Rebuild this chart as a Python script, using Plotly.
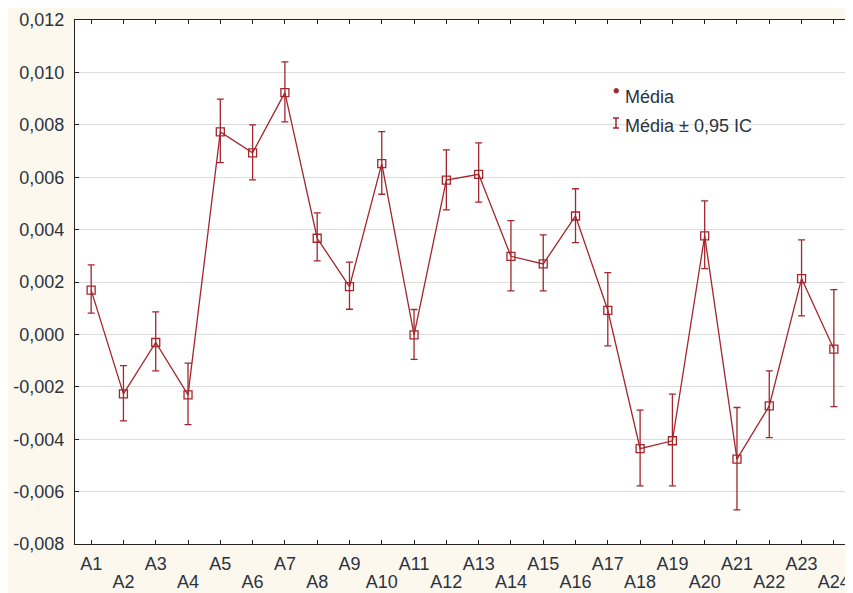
import plotly.graph_objects as go

categories = [f"A{i}" for i in range(1, 25)]
means = [0.00169, -0.00227, -0.00031, -0.00231, 0.00773, 0.00693, 0.00923, 0.00367,
         0.00182, 0.00652, -0.00002, 0.00589, 0.00611, 0.00298, 0.00269, 0.00452,
         0.00092, -0.00436, -0.00406, 0.00376, -0.00476, -0.00273, 0.00213, -0.00056]
upper = [0.00265, -0.00119, 0.00086, -0.00110, 0.00898, 0.00800, 0.01040, 0.00464,
         0.00276, 0.00774, 0.00095, 0.00704, 0.00731, 0.00434, 0.00380, 0.00556,
         0.00236, -0.00289, -0.00228, 0.00510, -0.00279, -0.00139, 0.00361, 0.00171]
lower = [0.00081, -0.00330, -0.00139, -0.00344, 0.00656, 0.00590, 0.00811, 0.00281,
         0.00096, 0.00535, -0.00095, 0.00475, 0.00505, 0.00166, 0.00166, 0.00350,
         -0.00044, -0.00578, -0.00578, 0.00251, -0.00670, -0.00394, 0.00071, -0.00276]
y_ticks = [-0.008, -0.006, -0.004, -0.002, 0.0, 0.002, 0.004, 0.006, 0.008, 0.010, 0.012]
y_tick_labels = [f"{v:.3f}".replace(".", ",") for v in y_ticks]
odd_labels = [c if i % 2 == 0 else "" for i, c in enumerate(categories)]
even_labels = [c if i % 2 == 1 else "" for i, c in enumerate(categories)]

RED = "#a3262c"
TXT = "#2b3340"
FONT = "Liberation Sans, Arial, sans-serif"
FS = 18

x = list(range(1, 25))
err_plus = [u - m for u, m in zip(upper, means)]
err_minus = [m - l for m, l in zip(means, lower)]

fig = go.Figure()
fig.add_trace(go.Scatter(
    x=x, y=means, mode="lines+markers",
    line=dict(color=RED, width=1.3),
    marker=dict(symbol="square-open", size=8, color=RED, line=dict(width=1.3)),
    error_y=dict(type="data", symmetric=False, array=err_plus, arrayminus=err_minus,
                 color=RED, thickness=1.3, width=3.5),
    showlegend=False,
))
# invisible helper so the second-row label axis is drawn
fig.add_trace(go.Scatter(x=x, y=means, xaxis="x2", mode="markers",
                         marker=dict(opacity=0), hoverinfo="skip", showlegend=False))

# page is offset by body margin of 8px
OX, OY = 8, 8
FW, FH = 845, 585
P_L, P_R, P_T, P_B = 75 - OX, 850 - OX, 20 - OY, 544 - OY

def px(xp):
    return (xp - OX - P_L) / (P_R - P_L)
def py(yp):
    return (P_B - (yp - OY)) / (P_B - P_T)

shapes = [
    dict(type="circle", xref="paper", yref="paper", x0=px(614), x1=px(618.5), y0=py(93), y1=py(88.5),
         fillcolor=RED, line=dict(color=RED, width=1)),
    dict(type="line", xref="paper", yref="paper", x0=px(616), x1=px(616), y0=py(118), y1=py(128),
         line=dict(color=RED, width=1.5)),
    dict(type="line", xref="paper", yref="paper", x0=px(613), x1=px(619), y0=py(118), y1=py(118),
         line=dict(color=RED, width=1.5)),
    dict(type="line", xref="paper", yref="paper", x0=px(613), x1=px(619), y0=py(128), y1=py(128),
         line=dict(color=RED, width=1.5)),
]
annotations = [
    dict(text="Média", xref="paper", yref="paper", x=px(623), y=py(97), xanchor="left", yanchor="middle",
         showarrow=False, font=dict(size=FS, color=TXT, family=FONT)),
    dict(text="Média ± 0,95 IC", xref="paper", yref="paper", x=px(623), y=py(126), xanchor="left",
         yanchor="middle", showarrow=False, font=dict(size=FS, color=TXT, family=FONT)),
]

fig.update_layout(
    width=FW, height=FH,
    margin=dict(l=P_L, r=FW - P_R, t=P_T, b=FH - P_B, autoexpand=False),
    paper_bgcolor="#fcf8ee",
    plot_bgcolor="white",
    font=dict(family=FONT, size=FS, color=TXT),
    shapes=shapes,
    annotations=annotations,
    xaxis=dict(
        range=[0.5, 24.5], tickmode="array", tickvals=x, ticktext=odd_labels,
        showgrid=False, zeroline=False, showline=True, linecolor="#222", linewidth=1.2,
        mirror="ticks", ticks="inside", ticklen=4, tickcolor="#222",
        tickfont=dict(size=FS, color=TXT), ticklabelstandoff=3,
    ),
    xaxis2=dict(
        overlaying="x", matches="x", side="bottom", anchor="y",
        range=[0.5, 24.5], tickmode="array", tickvals=x, ticktext=even_labels,
        showgrid=False, zeroline=False, showline=False, ticks="",
        tickfont=dict(size=FS, color=TXT), ticklabelstandoff=25,
    ),
    yaxis=dict(
        range=[-0.008, 0.012], tickmode="array", tickvals=y_ticks, ticktext=y_tick_labels,
        showgrid=True, gridcolor="#dcdcdc", gridwidth=1.2, zeroline=False,
        showline=True, linecolor="#222", linewidth=1.2,
        mirror="ticks", ticks="inside", ticklen=4, tickcolor="#222",
        tickfont=dict(size=FS, color=TXT), ticklabelstandoff=6,
    ),
)

fig.write_html("out.html")
